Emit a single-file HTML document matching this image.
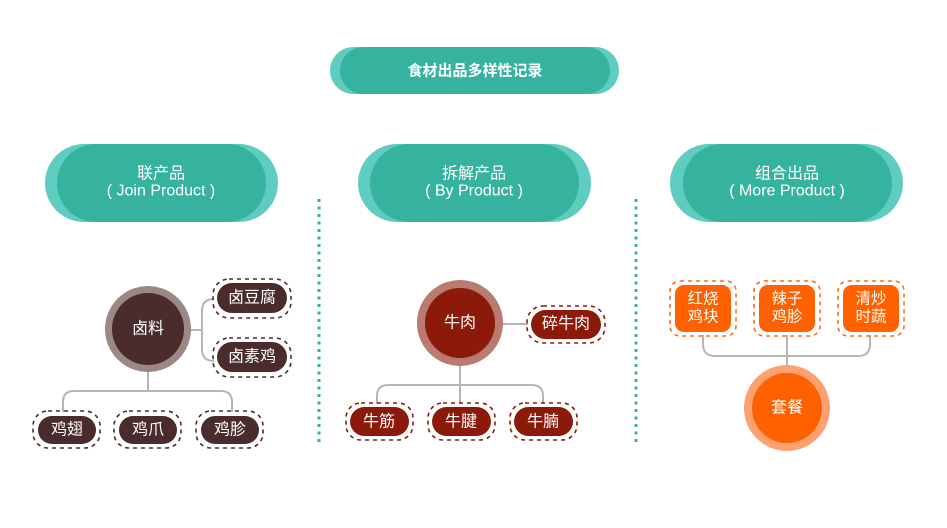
<!DOCTYPE html>
<html><head><meta charset="utf-8"><style>
html,body{margin:0;padding:0;background:#fff;}
svg{display:block;}
text{font-family:"Liberation Sans","Noto Sans CJK SC",sans-serif;fill:#fff;text-anchor:middle;dominant-baseline:central;}
</style></head><body>
<svg width="947" height="528" viewBox="0 0 947 528" xmlns="http://www.w3.org/2000/svg">
<rect x="330" y="47" width="289" height="47" rx="23.5" fill="#5ecdc0"/>
<rect x="340" y="47" width="270" height="47" rx="23.5" fill="#35b39f"/>
<text x="475" y="71" font-size="15" font-weight="bold">食材出品多样性记录</text>

<g>
<rect x="45" y="144" width="233" height="78" rx="39" fill="#5ecdc0"/>
<rect x="57" y="144" width="209" height="78" rx="39" fill="#35b39f"/>
<text x="161" y="174" font-size="16">联产品</text>
<text x="161" y="191" font-size="16">( Join Product )</text>
</g>
<g>
<rect x="358" y="144" width="233" height="78" rx="39" fill="#5ecdc0"/>
<rect x="370" y="144" width="209" height="78" rx="39" fill="#35b39f"/>
<text x="474" y="174" font-size="16">拆解产品</text>
<text x="474" y="191" font-size="16">( By Product )</text>
</g>
<g>
<rect x="670" y="144" width="233" height="78" rx="39" fill="#5ecdc0"/>
<rect x="683" y="144" width="209" height="78" rx="39" fill="#35b39f"/>
<text x="787" y="174" font-size="16">组合出品</text>
<text x="787" y="191" font-size="16">( More Product )</text>
</g>

<line x1="319" y1="199" x2="319" y2="442" stroke="#35b39f" stroke-width="3" stroke-dasharray="3 4.5"/>
<line x1="636" y1="199" x2="636" y2="442" stroke="#35b39f" stroke-width="3" stroke-dasharray="3 4.5"/>

<g fill="none" stroke="#b5b5b5" stroke-width="2">
<path d="M190 330 H202"/>
<path d="M214 299 Q202 299 202 311 V349 Q202 361 214 361"/>
<path d="M148 372 V391"/>
<path d="M63 412 V402 Q63 391 74 391 H221 Q232 391 232 402 V412"/>
<path d="M502 324 H528"/>
<path d="M460 366 V404"/>
<path d="M377 404 V396 Q377 385 388 385 H532 Q543 385 543 396 V404"/>
<path d="M703 335 V344 Q703 356 715 356 H858 Q870 356 870 344 V335"/>
<path d="M787 335 V366"/>
</g>

<circle cx="148" cy="329" r="43" fill="#9b8885"/>
<circle cx="148" cy="329" r="36" fill="#4a2c2c"/>
<text x="148" y="329" font-size="16">卤料</text>
<g fill="none" stroke="#4a2c2c" stroke-width="1.6" stroke-dasharray="4 4">
<rect x="213" y="279" width="78" height="39" rx="16"/>
<rect x="213" y="338" width="78" height="39" rx="16"/>
<rect x="33" y="411" width="67" height="37" rx="15"/>
<rect x="114" y="411" width="67" height="37" rx="15"/>
<rect x="196" y="411" width="67" height="37" rx="15"/>
</g>
<g fill="#4a2c2c">
<rect x="217" y="283" width="70" height="30" rx="15"/>
<rect x="217" y="342" width="70" height="30" rx="15"/>
<rect x="38" y="416" width="58" height="28" rx="14"/>
<rect x="119" y="416" width="58" height="28" rx="14"/>
<rect x="201" y="416" width="58" height="28" rx="14"/>
</g>
<text x="252" y="298" font-size="16">卤豆腐</text>
<text x="252" y="357" font-size="16">卤素鸡</text>
<text x="67" y="430" font-size="16">鸡翅</text>
<text x="148" y="430" font-size="16">鸡爪</text>
<text x="230" y="430" font-size="16">鸡胗</text>

<circle cx="460" cy="323" r="43" fill="#b97a70"/>
<circle cx="460" cy="323" r="35" fill="#8b1a0a"/>
<text x="460" y="323" font-size="16">牛肉</text>
<g fill="none" stroke="#8b1a0a" stroke-width="1.6" stroke-dasharray="4 4">
<rect x="527" y="306" width="78" height="37" rx="16"/>
<rect x="346" y="403" width="67" height="37" rx="15"/>
<rect x="428" y="403" width="67" height="37" rx="15"/>
<rect x="510" y="403" width="67" height="37" rx="15"/>
</g>
<g fill="#8b1a0a">
<rect x="531" y="310" width="70" height="29" rx="14.5"/>
<rect x="350" y="407" width="59" height="29" rx="14.5"/>
<rect x="432" y="407" width="59" height="29" rx="14.5"/>
<rect x="514" y="407" width="59" height="29" rx="14.5"/>
</g>
<text x="566" y="324" font-size="16">碎牛肉</text>
<text x="379" y="422" font-size="16">牛筋</text>
<text x="461" y="422" font-size="16">牛腱</text>
<text x="543" y="422" font-size="16">牛腩</text>

<g fill="none" stroke="#ff6a1a" stroke-width="1.6" stroke-dasharray="4 4">
<rect x="670" y="281" width="66" height="55" rx="10"/>
<rect x="754" y="281" width="66" height="55" rx="10"/>
<rect x="838" y="281" width="66" height="55" rx="10"/>
</g>
<g fill="#ff6000">
<rect x="675" y="285" width="56" height="47" rx="9"/>
<rect x="759" y="285" width="56" height="47" rx="9"/>
<rect x="843" y="285" width="56" height="47" rx="9"/>
</g>
<text x="703" y="299" font-size="15.5">红烧</text>
<text x="703" y="317" font-size="15.5">鸡块</text>
<text x="787" y="299" font-size="15.5">辣子</text>
<text x="787" y="317" font-size="15.5">鸡胗</text>
<text x="871" y="299" font-size="15.5">清炒</text>
<text x="871" y="317" font-size="15.5">时蔬</text>
<circle cx="787" cy="408" r="43" fill="#ffa070"/>
<circle cx="787" cy="408" r="35" fill="#ff6000"/>
<text x="787" y="408" font-size="16">套餐</text>
</svg>
</body></html>
